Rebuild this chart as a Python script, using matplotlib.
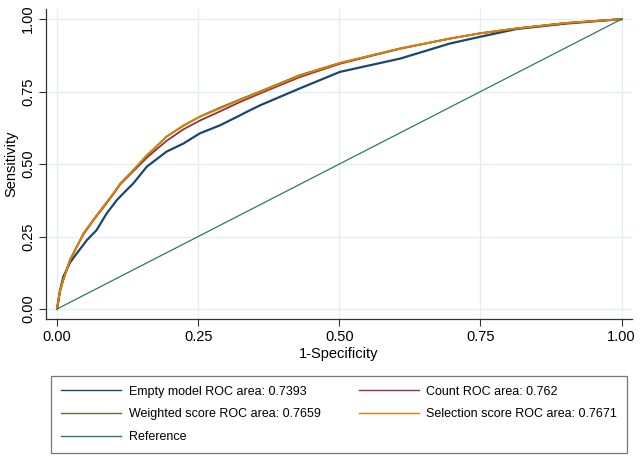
"""ROC curves for the four risk models against the reference line."""

import matplotlib

matplotlib.use("Agg")
import matplotlib.pyplot as plt

plt.rcParams["font.family"] = ["Liberation Sans", "DejaVu Sans"]

# 1-specificity / sensitivity pairs
empty_fpr = [0.0, 0.005, 0.011, 0.023, 0.035, 0.053, 0.070, 0.088, 0.106, 0.123,
             0.135, 0.159, 0.194, 0.224, 0.253, 0.289, 0.324, 0.342, 0.360, 0.430,
             0.501, 0.608, 0.696, 0.749, 0.814, 0.903, 1.0]
empty_tpr = [0.0, 0.060, 0.111, 0.160, 0.192, 0.238, 0.272, 0.330, 0.376, 0.410,
             0.433, 0.491, 0.543, 0.571, 0.606, 0.634, 0.668, 0.686, 0.703, 0.761,
             0.818, 0.864, 0.916, 0.939, 0.966, 0.985, 1.0]

score_fpr = [0.0, 0.005, 0.011, 0.023, 0.035, 0.047, 0.064, 0.082, 0.100, 0.112,
             0.135, 0.159, 0.194, 0.224, 0.253, 0.289, 0.324, 0.360, 0.430, 0.501,
             0.608, 0.696, 0.749, 0.814, 0.903, 1.0]
count_tpr = [0.0, 0.060, 0.100, 0.169, 0.215, 0.258, 0.305, 0.350, 0.397, 0.430,
             0.475, 0.522, 0.580, 0.620, 0.650, 0.682, 0.714, 0.744, 0.800, 0.846,
             0.898, 0.933, 0.951, 0.968, 0.987, 1.0]
weighted_tpr = [0.0, 0.060, 0.100, 0.169, 0.215, 0.261, 0.307, 0.353, 0.399, 0.433,
                0.479, 0.528, 0.595, 0.632, 0.664, 0.695, 0.723, 0.751, 0.807, 0.849,
                0.899, 0.933, 0.951, 0.968, 0.987, 1.0]
selection_tpr = [0.0, 0.060, 0.100, 0.169, 0.215, 0.261, 0.307, 0.353, 0.399, 0.433,
                 0.479, 0.531, 0.594, 0.634, 0.663, 0.692, 0.721, 0.749, 0.805, 0.849,
                 0.899, 0.933, 0.951, 0.968, 0.987, 1.0]

reference_x = [0.0, 1.0]
reference_y = [0.0, 1.0]

labels = [
    "Empty model ROC area: 0.7393",
    "Count ROC area: 0.762",
    "Weighted score ROC area: 0.7659",
    "Selection score ROC area: 0.7671",
    "Reference",
]
ticks = [0.0, 0.25, 0.5, 0.75, 1.0]
tick_labels = ["0.00", "0.25", "0.50", "0.75", "1.00"]

fig = plt.figure(figsize=(6.41, 4.58), dpi=100)
ax = fig.add_axes([0.0718, 0.3035, 0.9142, 0.6765])

h_empty, = ax.plot(empty_fpr, empty_tpr, color="#1a476f", lw=1.6, label=labels[0])
h_count, = ax.plot(score_fpr, count_tpr, color="#90353b", lw=1.3, label=labels[1])
h_weight, = ax.plot(score_fpr, weighted_tpr, color="#55752f", lw=1.3, label=labels[2])
h_select, = ax.plot(score_fpr, selection_tpr, color="#e37e00", lw=1.3, label=labels[3])
h_ref, = ax.plot(reference_x, reference_y, color="#2e7a5e", lw=0.9, label=labels[4])

ax.set_xlim(-0.0195, 1.0186)
ax.set_ylim(-0.0345, 1.0345)
ax.set_xticks(ticks)
ax.set_xticklabels(tick_labels)
ax.set_yticks(ticks)
ax.set_yticklabels(tick_labels, rotation=90, va="center")
ax.tick_params(labelsize=10.5, length=5, width=0.8, color="#333333", pad=3)
ax.grid(True, color="#e4eef1", lw=1.0)
ax.set_axisbelow(True)

for side in ("top", "right"):
    ax.spines[side].set_visible(False)
for side in ("left", "bottom"):
    ax.spines[side].set_color("#333333")
    ax.spines[side].set_linewidth(0.9)

ax.set_xlabel("1-Specificity", fontsize=10.5, labelpad=2)
ax.set_ylabel("Sensitivity", fontsize=10.5, labelpad=2)

handles = [h_empty, h_weight, h_ref, h_count, h_select]
leg = fig.legend(
    handles,
    [h.get_label() for h in handles],
    ncol=2,
    loc="lower left",
    bbox_to_anchor=(0.0796, 0.0109, 0.8986, 0.17),
    mode="expand",
    borderaxespad=0,
    fontsize=9,
    frameon=True,
    fancybox=False,
    handlelength=4.8,
    handletextpad=0.6,
    labelspacing=0.85,
    borderpad=0.8,
    columnspacing=3.0,
)
leg.get_frame().set_edgecolor("#555555")
leg.get_frame().set_linewidth(0.9)
for line in leg.get_lines():
    line.set_linewidth(1.0)

fig.savefig("out.png", dpi=100)
